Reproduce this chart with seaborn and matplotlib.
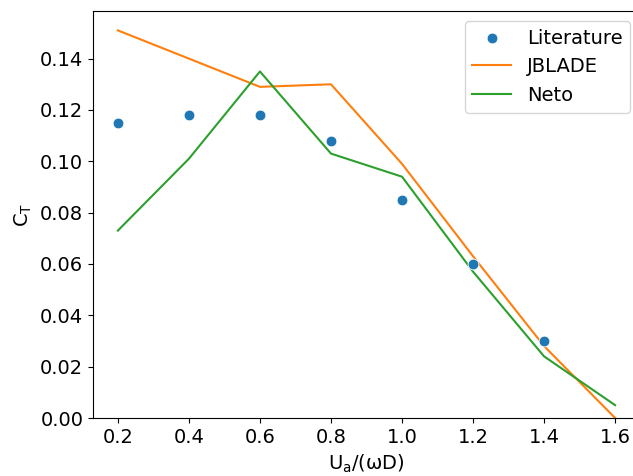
import matplotlib
matplotlib.use("Agg")
import matplotlib.pyplot as plt
import seaborn as sns
import pandas as pd

# Advance ratio and thrust coefficient series
ratio = [0.2, 0.4, 0.6, 0.8, 1.0, 1.2, 1.4, 1.6]
lit_ratio = [0.2, 0.4, 0.6, 0.8, 1.0, 1.2, 1.4]
ct_literature = [0.115, 0.118, 0.118, 0.108, 0.085, 0.060, 0.030]
ct_jblade = [0.151, 0.140, 0.129, 0.130, 0.099, 0.063, 0.028, 0.000]
ct_neto = [0.073, 0.101, 0.135, 0.103, 0.094, 0.057, 0.024, 0.005]

lit = pd.DataFrame({"x": lit_ratio, "ct": ct_literature})
jb = pd.DataFrame({"x": ratio, "ct": ct_jblade})
ne = pd.DataFrame({"x": ratio, "ct": ct_neto})

pal = sns.color_palette("tab10")

fig, ax = plt.subplots(figsize=(6.33, 4.76), dpi=100)
fig.subplots_adjust(left=93 / 633, right=640 / 633, top=1 - 11 / 476,
                    bottom=1 - 418 / 476)

sns.scatterplot(data=lit, x="x", y="ct", ax=ax, color=pal[0], s=60,
                edgecolor="white", linewidth=0.6, label="Literature", zorder=3)
sns.lineplot(data=jb, x="x", y="ct", ax=ax, color=pal[1], linewidth=1.5,
             label="JBLADE")
sns.lineplot(data=ne, x="x", y="ct", ax=ax, color=pal[2], linewidth=1.5,
             label="Neto")

ax.set_ylim(bottom=0)
ax.set_xticks([0.2, 0.4, 0.6, 0.8, 1.0, 1.2, 1.4, 1.6])
ax.tick_params(labelsize=14)
ax.set_xlabel(r"$\mathrm{U_a}$/(ωD)", fontsize=14)
ax.set_ylabel(r"$\mathrm{C_T}$", fontsize=14)
ax.legend(loc="upper right", fontsize=14)

fig.savefig("out.png", dpi=100)
